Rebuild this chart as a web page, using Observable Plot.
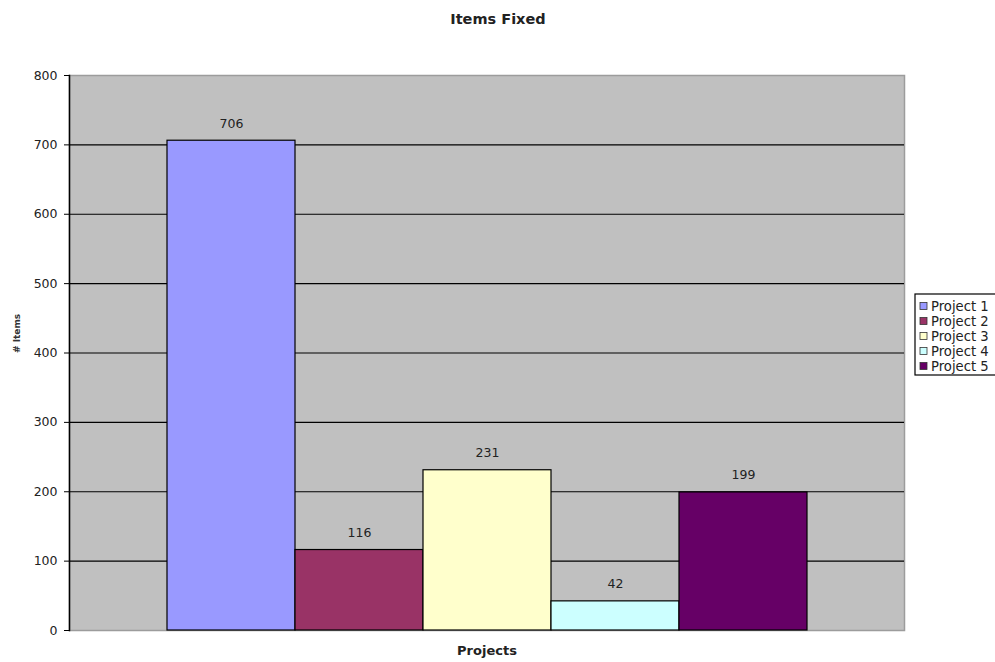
<!DOCTYPE html>
<html>
<head>
<meta charset="utf-8">
<script src="https://cdn.jsdelivr.net/npm/d3@7"></script>
<script src="https://cdn.jsdelivr.net/npm/@observablehq/plot@0.6"></script>
<style>
  body { margin: 0; background: #fff; }
  #chart svg { display: block; }
</style>
</head>
<body>
<div id="chart"></div>
<script>
// Items fixed per project
const projects = ["Project 1", "Project 2", "Project 3", "Project 4", "Project 5"];
const itemsFixed = [706, 116, 231, 42, 199];
const barColors = ["#9999FF", "#993366", "#FFFFCC", "#CCFFFF", "#660066"];
const yTicks = [0, 100, 200, 300, 400, 500, 600, 700, 800];
const gridLines = [100, 200, 300, 400, 500, 600, 700];

const titleText = "Items Fixed";
const xTitle = "Projects";
const yTitle = "# Items";

const rows = projects.map((p, i) => ({ project: p, value: itemsFixed[i] }));

const font = "'DejaVu Sans', sans-serif";

const chart = Plot.plot({
  width: 995,
  height: 662,
  marginLeft: 69,
  marginRight: 91,
  marginTop: 75,
  marginBottom: 32,
  style: { fontFamily: font, fontSize: "12.5px", color: "#000", background: "#fff" },
  x: { type: "band", domain: projects, paddingInner: 0, paddingOuter: 0.75, axis: null },
  y: { domain: [0, 800], axis: null },
  color: { domain: projects, range: barColors },
  marks: [
    Plot.frame({ fill: "#C0C0C0", stroke: "#9c9c9c", strokeWidth: 1.5 }),
    Plot.ruleY(gridLines, { stroke: "#000", strokeWidth: 1.2 }),
    Plot.barY(rows, { x: "project", y: "value", fill: "project", stroke: "#000", strokeWidth: 1.2 }),
    Plot.text(rows, { x: "project", y: "value", text: d => String(d.value), dy: -17, fontSize: 12.5, fill: "#222" }),
    Plot.axisY({ ticks: yTicks, tickSize: 5, tickPadding: 7, label: null, fontSize: 12.5, fill: "#222", stroke: "#000" }),
    Plot.frame({ anchor: "left", stroke: "#000", strokeWidth: 1.5 }),
    Plot.text([yTitle], { frameAnchor: "left", dx: -52, rotate: -90, fontSize: 9, fontWeight: "bold", fill: "#333" }),
    Plot.text([xTitle], { frameAnchor: "bottom", dy: 24, fontSize: 13, fontWeight: "bold", fill: "#222" })
  ]
});

document.getElementById("chart").appendChild(chart);

const svg = d3.select(chart);

// chart title
svg.append("text")
  .attr("x", 498)
  .attr("y", 20)
  .attr("text-anchor", "middle")
  .attr("dominant-baseline", "middle")
  .attr("font-family", font)
  .attr("font-size", 14.5)
  .attr("font-weight", "bold")
  .attr("fill", "#222")
  .text(titleText);

// legend box on the right
const legend = svg.append("g").attr("transform", "translate(915,294)");
legend.append("rect")
  .attr("x", 0).attr("y", 0)
  .attr("width", 100).attr("height", 81)
  .attr("fill", "#fff").attr("stroke", "#000").attr("stroke-width", 1.2);

const color = chart.scale("color");
const item = legend.selectAll("g.item")
  .data(projects)
  .join("g")
  .attr("class", "item")
  .attr("transform", (d, i) => `translate(0,${12 + i * 15})`);
item.append("rect")
  .attr("x", 5).attr("y", -3.5)
  .attr("width", 7).attr("height", 7)
  .attr("fill", d => color.apply(d))
  .attr("stroke", "#333").attr("stroke-width", 0.8);
item.append("text")
  .attr("x", 16).attr("y", 0.5)
  .attr("text-anchor", "start")
  .attr("dominant-baseline", "middle")
  .attr("font-family", font)
  .attr("font-size", 13.2)
  .attr("fill", "#222")
  .text(d => d);
</script>
</body>
</html>
